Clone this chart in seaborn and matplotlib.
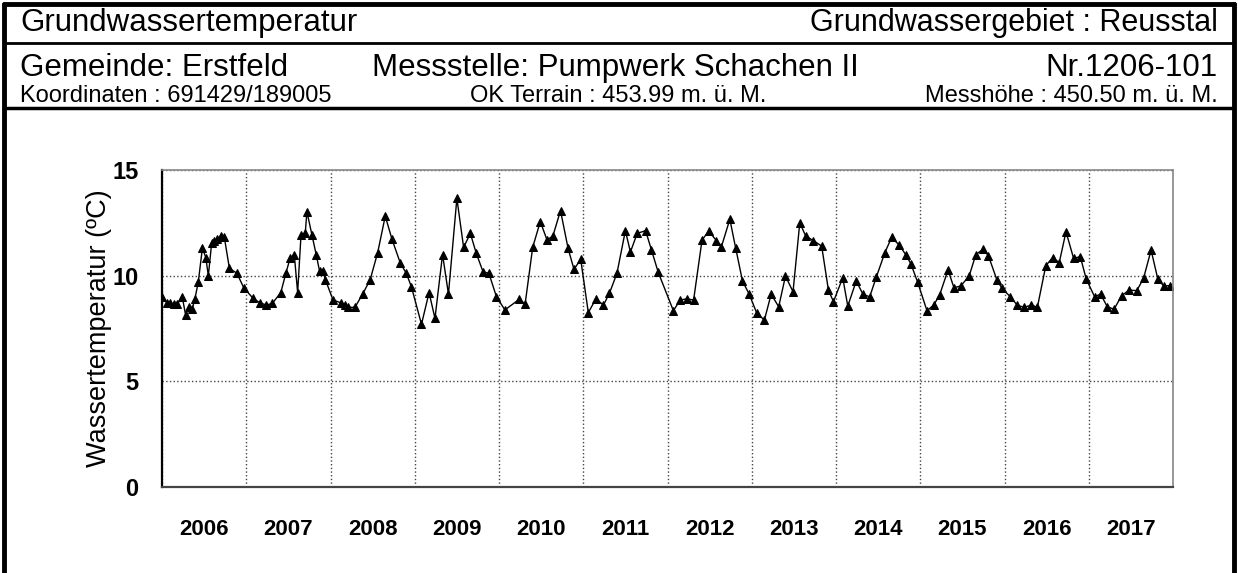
import numpy as np
import pandas as pd
import matplotlib
matplotlib.use("Agg")
import matplotlib.pyplot as plt
from matplotlib.lines import Line2D
import seaborn as sns

# Messzeitpunkte (Dezimaljahr) und Wassertemperatur in °C
datum = [
    2006.00, 2006.06, 2006.10, 2006.14, 2006.18, 2006.24, 2006.28, 2006.32, 2006.36, 2006.39,
    2006.43, 2006.48, 2006.52, 2006.55, 2006.59, 2006.62, 2006.65, 2006.70, 2006.74, 2006.80,
    2006.89, 2006.97, 2007.08, 2007.16, 2007.24, 2007.31, 2007.41, 2007.47, 2007.52, 2007.57,
    2007.61, 2007.65, 2007.70, 2007.72, 2007.78, 2007.83, 2007.87, 2007.91, 2007.94, 2008.03,
    2008.12, 2008.17, 2008.21, 2008.29, 2008.38, 2008.47, 2008.56, 2008.65, 2008.73, 2008.83,
    2008.90, 2008.96, 2009.08, 2009.17, 2009.24, 2009.33, 2009.40, 2009.50, 2009.58, 2009.66,
    2009.73, 2009.81, 2009.88, 2009.97, 2010.07, 2010.24, 2010.31, 2010.40, 2010.49, 2010.57,
    2010.64, 2010.73, 2010.82, 2010.89, 2010.97, 2011.06, 2011.15, 2011.24, 2011.31, 2011.40,
    2011.50, 2011.56, 2011.64, 2011.74, 2011.81, 2011.89, 2012.07, 2012.15, 2012.23, 2012.31,
    2012.41, 2012.49, 2012.58, 2012.64, 2012.74, 2012.81, 2012.89, 2012.97, 2013.06, 2013.15,
    2013.23, 2013.32, 2013.40, 2013.49, 2013.57, 2013.64, 2013.73, 2013.83, 2013.91, 2013.97,
    2014.08, 2014.14, 2014.24, 2014.32, 2014.40, 2014.48, 2014.58, 2014.66, 2014.75, 2014.83,
    2014.89, 2014.97, 2015.08, 2015.16, 2015.23, 2015.33, 2015.40, 2015.48, 2015.58, 2015.66,
    2015.75, 2015.81, 2015.91, 2015.97, 2016.07, 2016.15, 2016.23, 2016.32, 2016.39, 2016.49,
    2016.57, 2016.65, 2016.73, 2016.82, 2016.90, 2016.97, 2017.07, 2017.14, 2017.22, 2017.30,
    2017.39, 2017.48, 2017.57, 2017.65, 2017.74, 2017.82, 2017.89, 2017.97,
]
temperatur = [
    9.00, 8.72, 8.69, 8.66, 8.64, 9.00, 8.14, 8.53, 8.44, 8.90,
    9.68, 11.32, 10.85, 10.00, 11.56, 11.66, 11.72, 11.89, 11.81, 10.35,
    10.11, 9.43, 8.93, 8.72, 8.61, 8.69, 9.20, 10.11, 10.82, 11.00,
    9.20, 11.92, 12.00, 13.03, 11.92, 11.00, 10.22, 10.22, 9.80, 8.85,
    8.72, 8.60, 8.50, 8.50, 9.12, 9.80, 11.09, 12.82, 11.72, 10.58,
    10.11, 9.48, 7.70, 9.20, 7.98, 11.00, 9.13, 13.66, 11.34, 12.00,
    11.06, 10.19, 10.11, 9.00, 8.38, 8.88, 8.66, 11.34, 12.56, 11.69,
    11.88, 13.08, 11.29, 10.30, 10.77, 8.25, 8.90, 8.61, 9.16, 10.11,
    12.13, 11.12, 12.00, 12.13, 11.21, 10.16, 8.34, 8.85, 8.90, 8.85,
    11.69, 12.11, 11.66, 11.37, 12.67, 11.29, 9.75, 9.12, 8.22, 7.90,
    9.12, 8.53, 9.98, 9.24, 12.50, 11.88, 11.66, 11.40, 9.32, 8.77,
    9.90, 8.56, 9.75, 9.12, 9.00, 9.95, 11.09, 11.81, 11.45, 10.98,
    10.55, 9.68, 8.34, 8.61, 9.09, 10.27, 9.43, 9.51, 9.98, 11.00,
    11.26, 10.93, 9.80, 9.40, 9.00, 8.61, 8.50, 8.61, 8.50, 10.47,
    10.85, 10.62, 12.08, 10.82, 10.90, 9.84, 9.00, 9.13, 8.53, 8.41,
    9.05, 9.32, 9.29, 9.87, 11.21, 9.84, 9.51, 9.53,
]
jahre = list(range(2006, 2018))

df = pd.DataFrame({"datum": datum, "temperatur": temperatur})

sns.set_theme(style="white")
plt.rcParams["font.family"] = ["Liberation Sans", "DejaVu Sans"]
for key in ["text.color", "axes.labelcolor", "xtick.color", "ytick.color"]:
    plt.rcParams[key] = "black"

W, H = 1238, 573
fig = plt.figure(figsize=(W / 100, H / 100), dpi=100)

# Achsen im Pixelraster der Vorlage
x0, x1, y0, y1 = 162, 1173, 170, 487
ax = fig.add_axes([x0 / W, 1 - y1 / H, (x1 - x0) / W, (y1 - y0) / H])

sns.lineplot(data=df, x="datum", y="temperatur", marker="^", color="black",
             markersize=5.5, markeredgecolor="black", linewidth=1,
             estimator=None, sort=False, ax=ax)

ax.set_xlim(2006, 2018)
ax.set_ylim(0, 15)

# Jahresgrenzen als Haupt-Ticks, Jahreszahlen mittig
ax.set_xticks(range(2006, 2019))
ax.set_xticklabels([])
ax.set_xticks([j + 0.5 for j in jahre], minor=True)
ax.set_xticklabels([str(j) for j in jahre], minor=True, fontsize=16, fontweight="bold")
ax.tick_params(axis="x", which="minor", length=0, pad=23)
ax.tick_params(axis="x", which="major", direction="out", length=5, width=1, color="black")

ax.set_yticks([0, 5, 10, 15])
ax.set_yticklabels(["0", "5", "10", "15"], fontsize=17, fontweight="bold")
ax.set_yticks(range(0, 16), minor=True)
ax.tick_params(axis="y", which="major", direction="out", length=8, width=1.2, color="black", pad=9)
ax.tick_params(axis="y", which="minor", direction="out", length=5, width=1, color="black")

ax.grid(True, which="major", linestyle=":", color="#444444", linewidth=1)
ax.set_xlabel("")
ax.set_ylabel("Wassertemperatur (ºC)", fontsize=19.5, labelpad=0)

for side in ["top", "right"]:
    ax.spines[side].set_color("#888888")
    ax.spines[side].set_linewidth(1.2)
ax.spines["left"].set_color("black")
ax.spines["left"].set_linewidth(1.6)
ax.spines["bottom"].set_color("#444444")
ax.spines["bottom"].set_linewidth(1.6)

# Rahmen und Kopfzeilen
def fx(px):
    return px / W

def fy(py):
    return 1 - py / H

fig.add_artist(Line2D([fx(4), fx(4)], [0, fy(4)], color="black", lw=3.5))
fig.add_artist(Line2D([fx(1234), fx(1234)], [0, fy(4)], color="black", lw=3.5))
fig.add_artist(Line2D([fx(4), fx(1234)], [fy(4), fy(4)], color="black", lw=3.5))
fig.add_artist(Line2D([fx(4), fx(1234)], [fy(43), fy(43)], color="black", lw=2))
fig.add_artist(Line2D([fx(4), fx(1234)], [fy(108), fy(108)], color="black", lw=2.5))

fig.text(fx(20), fy(23), "Grundwassertemperatur", fontsize=22.5, va="center", ha="left")
fig.text(fx(1218), fy(23), "Grundwassergebiet : Reusstal", fontsize=22, va="center", ha="right")
fig.text(fx(20), fy(68), "Gemeinde: Erstfeld", fontsize=22.5, va="center", ha="left")
fig.text(fx(372), fy(68), "Messstelle: Pumpwerk Schachen II", fontsize=22.5, va="center", ha="left")
fig.text(fx(1218), fy(68), "Nr.1206-101", fontsize=22.5, va="center", ha="right")
fig.text(fx(20), fy(96), "Koordinaten : 691429/189005", fontsize=17, va="center", ha="left")
fig.text(fx(470), fy(96), "OK Terrain : 453.99 m. ü. M.", fontsize=17, va="center", ha="left")
fig.text(fx(1218), fy(96), "Messhöhe : 450.50 m. ü. M.", fontsize=17, va="center", ha="right")

fig.savefig("out.png", dpi=100, facecolor="white")
